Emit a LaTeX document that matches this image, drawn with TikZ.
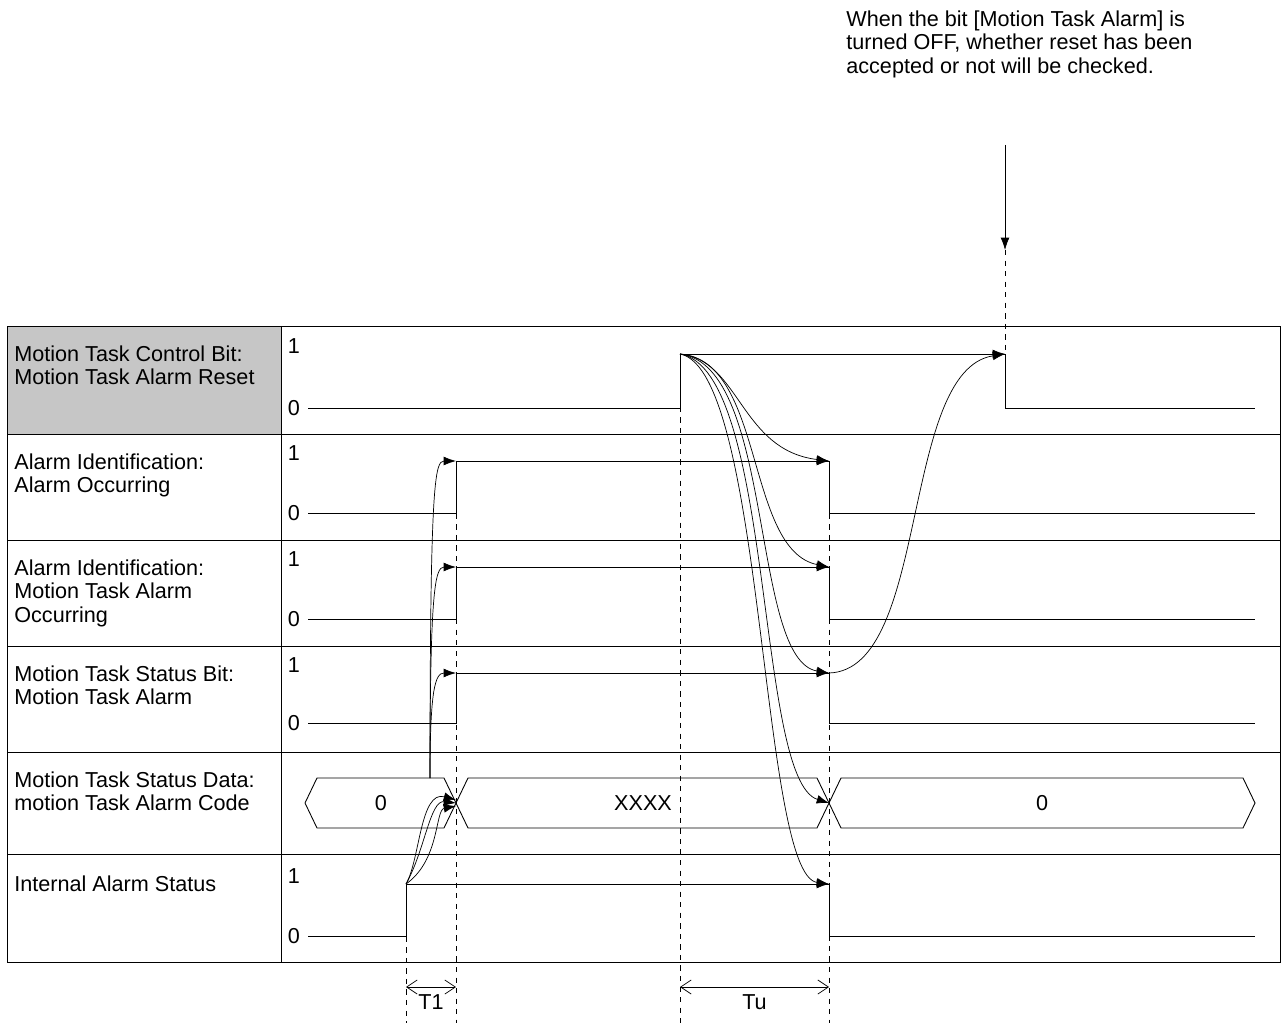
\documentclass[tikz,border=0pt]{standalone}
\usepackage{fontspec}
\setmainfont{Liberation Sans}
\usetikzlibrary{arrows.meta}
\usetikzlibrary{calc}
\begin{document}
\begin{tikzpicture}
	[x=0.02cm,y=-0.02cm,font=\fontsize{12.3}{13.6}\selectfont,
	 sig/.style={line width=0.5pt},
	 arr/.style={-{Latex[length=7pt,width=5pt]}},
	 dim/.style={{Straight Barb[length=6pt,width=8pt]}-{Straight Barb[length=6pt,width=8pt]}},
	 guide/.style={dashed,line width=0.4pt},
	 lbl/.style={anchor=north west,align=left,inner sep=0pt}];
	\useasboundingbox (0,0) rectangle (1284,1023);

	%Table
	\fill[gray!45] (7,326) rectangle (281,434);
	\draw (7,326) rectangle (1280,962);
	\draw (281,326) -- (281,962);
	\foreach \y in {434,540,646,752,854} \draw (7,\y) -- (1280,\y);

	\node[lbl] (l1) at (14,345) {Motion Task Control Bit:\\Motion Task Alarm Reset};
	\node[lbl] (l2) at (14,453) {Alarm Identification:\\Alarm Occurring};
	\node[lbl] (l3) at (14,559) {Alarm Identification:\\Motion Task Alarm\\Occurring};
	\node[lbl] (l4) at (14,665) {Motion Task Status Bit:\\Motion Task Alarm};
	\node[lbl] (l5) at (14,771) {Motion Task Status Data:\\motion Task Alarm Code};
	\node[lbl] (l6) at (14,875) {Internal Alarm Status};

	%Levels
	\foreach \hi/\lo in {354/408,461/513,567/619,673/723,884/936}{
		\node at (294,\hi-8) {1};
		\node at (294,\lo) {0};
	}

	%Signals
	\draw[sig] (308,408) -- (680,408) -- (680,354) -- (1005,354) -- (1005,408) -- (1255,408);
	\foreach \hi/\lo in {461/513,567/619,673/723}
		\draw[sig] (308,\lo) -- (456,\lo) -- (456,\hi) -- (829,\hi) -- (829,\lo) -- (1255,\lo);
	\draw[sig] (308,936) -- (406,936) -- (406,884) -- (829,884) -- (829,936) -- (1255,936);

	%Bus
	\draw[sig] (456,803) -- (444,778) -- (317,778) -- (305,803) -- (317,828) -- (444,828) -- cycle;
	\draw[sig] (456,803) -- (468,778) -- (817,778) -- (829,803) -- (817,828) -- (468,828) -- cycle;
	\draw[sig] (829,803) -- (841,778) -- (1243,778) -- (1255,803) -- (1243,828) -- (841,828) -- cycle;
	\node (b0) at (381,803) {0};
	\node (bx) at (643,803) {XXXX};
	\node (b1) at (1042,803) {0};

	%Guides
	\draw[guide] (406,884) -- (406,1023);
	\draw[guide] (456,461) -- (456,1023);
	\draw[guide] (680,354) -- (680,1023);
	\draw[guide] (829,461) -- (829,1023);
	\draw[guide] (1005,250) -- (1005,354);
	\draw[dim] (406,987) -- node[below=1pt] {T1} (456,987);
	\draw[dim] (680,987) -- node[below=1pt] {Tu} (829,987);

	%Note
	\node[lbl] (note) at (846,10) {When the bit [Motion Task Alarm] is\\turned OFF, whether reset has been\\accepted or not will be checked.};
	\draw[arr] (1005,145) -- (1005,250);

	%Causality
	\coordinate (r) at (680,354);
	\coordinate (a) at (406,884);
	\draw[arr] (r) -- (1005,354);
	\draw[arr] (456,461) -- (829,461);
	\draw[arr] (456,567) -- (829,567);
	\draw[arr] (456,673) -- (829,673);
	\draw[arr] (a) -- (829,884);
	\draw[arr] (r) .. controls (740,360) and (740,450) .. (829,461);
	\draw[arr] (r) .. controls (765,360) and (745,550) .. (829,567);
	\draw[arr] (r) .. controls (775,365) and (750,660) .. (829,673);
	\draw[arr] (r) .. controls (775,370) and (755,780) .. (829,803);
	\draw[arr] (r) .. controls (765,370) and (760,875) .. (829,884);
	\draw[arr] (a) .. controls (420,860) and (420,790) .. (456,800);
	\draw[arr] (a) .. controls (425,850) and (430,800) .. (456,803);
	\draw[arr] (a) .. controls (440,860) and (435,810) .. (456,806);
	\draw[arr] (430,778) .. controls (430,690) and (435,673) .. (456,673);
	\draw[arr] (430,778) .. controls (430,590) and (435,567) .. (456,567);
	\draw[arr] (430,778) .. controls (430,480) and (435,461) .. (456,461);
	\draw[arr] (829,673) .. controls (930,670) and (900,370) .. (1005,354);
\end{tikzpicture}
\end{document}
